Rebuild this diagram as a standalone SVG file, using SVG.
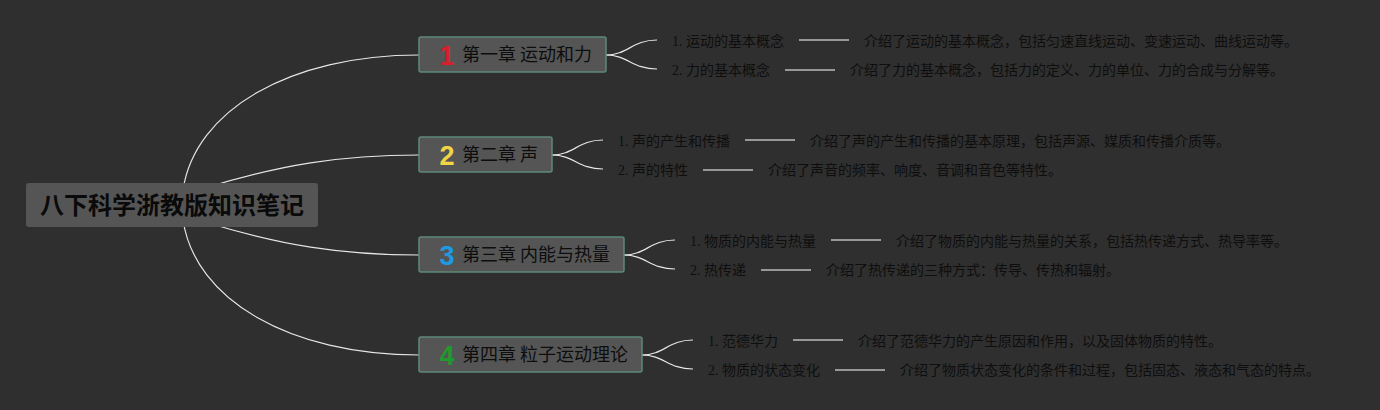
<svg xmlns="http://www.w3.org/2000/svg" width="1380" height="410" viewBox="0 0 1380 410">
<style>
.bg{fill:#2f2f2f}
.root{fill:#555555}
.rootT{font-family:"Noto Sans CJK SC","Noto Sans",sans-serif;font-size:24px;font-weight:bold;fill:#0a0a0a}
.ch{fill:#555555;stroke:#5c8a78;stroke-width:1.5}
.chT{font-family:"Noto Sans CJK SC","Noto Sans",sans-serif;font-size:18px;fill:#0d0d0d}
.num{font-family:"Liberation Sans","Noto Sans",sans-serif;font-size:27px;font-weight:bold}
.lab{font-family:"Liberation Serif","Noto Sans CJK SC",serif;font-size:14px;fill:#0e0e0e}
.desc{font-family:"Noto Sans CJK SC","Noto Sans",sans-serif;font-size:14px;fill:#0e0e0e}
.conn{fill:none;stroke:#e6e6e6;stroke-width:1.2}
.sep{stroke:#bdbdbd;stroke-width:1.5}
</style>
<rect class="bg" x="0" y="0" width="1380" height="410"/>
<g id="connectors">
<path class="conn" d="M183,190 C195,110 290,55 419,55"/>
<path class="conn" d="M205,188 C280,165 340,155 419,155"/>
<path class="conn" d="M205,222 C280,245 340,255 419,255"/>
<path class="conn" d="M183,220 C195,300 290,355 419,355"/>
<path class="conn" d="M606,55 C628,55 632,40 657,40"/>
<path class="conn" d="M606,55 C628,55 632,69 657,69"/>
<path class="conn" d="M552,155 C574,155 578,140 603,140"/>
<path class="conn" d="M552,155 C574,155 578,169 603,169"/>
<path class="conn" d="M624,255 C646,255 650,240 675,240"/>
<path class="conn" d="M624,255 C646,255 650,269 675,269"/>
<path class="conn" d="M642,355 C664,355 668,340 693,340"/>
<path class="conn" d="M642,355 C664,355 668,369 693,369"/>
<line class="sep" x1="799" y1="40" x2="849" y2="40"/>
<line class="sep" x1="785" y1="70" x2="835" y2="70"/>
<line class="sep" x1="745" y1="140" x2="795" y2="140"/>
<line class="sep" x1="703" y1="170" x2="753" y2="170"/>
<line class="sep" x1="831" y1="240" x2="881" y2="240"/>
<line class="sep" x1="761" y1="270" x2="811" y2="270"/>
<line class="sep" x1="793" y1="340" x2="843" y2="340"/>
<line class="sep" x1="835" y1="370" x2="885" y2="370"/>
</g>
<g id="root">
<rect class="root" x="26" y="183" width="292" height="44" rx="3"/>
<text class="rootT" x="172" y="214" text-anchor="middle">八下科学浙教版知识笔记</text>
</g>
<g id="ch1">
<rect class="ch" x="419" y="37" width="187" height="35" rx="2"/>
<text class="num" x="447" y="65" text-anchor="middle" fill="#d8202c">1</text>
<text class="chT" x="462" y="61">第一章 运动和力</text>
</g>
<g id="ch2">
<rect class="ch" x="419" y="137" width="133" height="35" rx="2"/>
<text class="num" x="447" y="165" text-anchor="middle" fill="#f2d544">2</text>
<text class="chT" x="462" y="161">第二章 声</text>
</g>
<g id="ch3">
<rect class="ch" x="419" y="237" width="205" height="35" rx="2"/>
<text class="num" x="447" y="265" text-anchor="middle" fill="#1d9ae0">3</text>
<text class="chT" x="462" y="261">第三章 内能与热量</text>
</g>
<g id="ch4">
<rect class="ch" x="419" y="337" width="223" height="35" rx="2"/>
<text class="num" x="447" y="365" text-anchor="middle" fill="#1e9a2e">4</text>
<text class="chT" x="462" y="361">第四章 粒子运动理论</text>
</g>
<g id="ch1-items">
<text class="lab" x="672" y="46">1. 运动的基本概念</text>
<text class="desc" x="864" y="46">介绍了运动的基本概念，包括匀速直线运动、变速运动、曲线运动等。</text>
<text class="lab" x="672" y="75">2. 力的基本概念</text>
<text class="desc" x="850" y="75">介绍了力的基本概念，包括力的定义、力的单位、力的合成与分解等。</text>
</g>
<g id="ch2-items">
<text class="lab" x="618" y="146">1. 声的产生和传播</text>
<text class="desc" x="810" y="146">介绍了声的产生和传播的基本原理，包括声源、媒质和传播介质等。</text>
<text class="lab" x="618" y="175">2. 声的特性</text>
<text class="desc" x="768" y="175">介绍了声音的频率、响度、音调和音色等特性。</text>
</g>
<g id="ch3-items">
<text class="lab" x="690" y="246">1. 物质的内能与热量</text>
<text class="desc" x="896" y="246">介绍了物质的内能与热量的关系，包括热传递方式、热导率等。</text>
<text class="lab" x="690" y="275">2. 热传递</text>
<text class="desc" x="826" y="275">介绍了热传递的三种方式：传导、传热和辐射。</text>
</g>
<g id="ch4-items">
<text class="lab" x="708" y="346">1. 范德华力</text>
<text class="desc" x="858" y="346">介绍了范德华力的产生原因和作用，以及固体物质的特性。</text>
<text class="lab" x="708" y="375">2. 物质的状态变化</text>
<text class="desc" x="900" y="375">介绍了物质状态变化的条件和过程，包括固态、液态和气态的特点。</text>
</g>
</svg>
